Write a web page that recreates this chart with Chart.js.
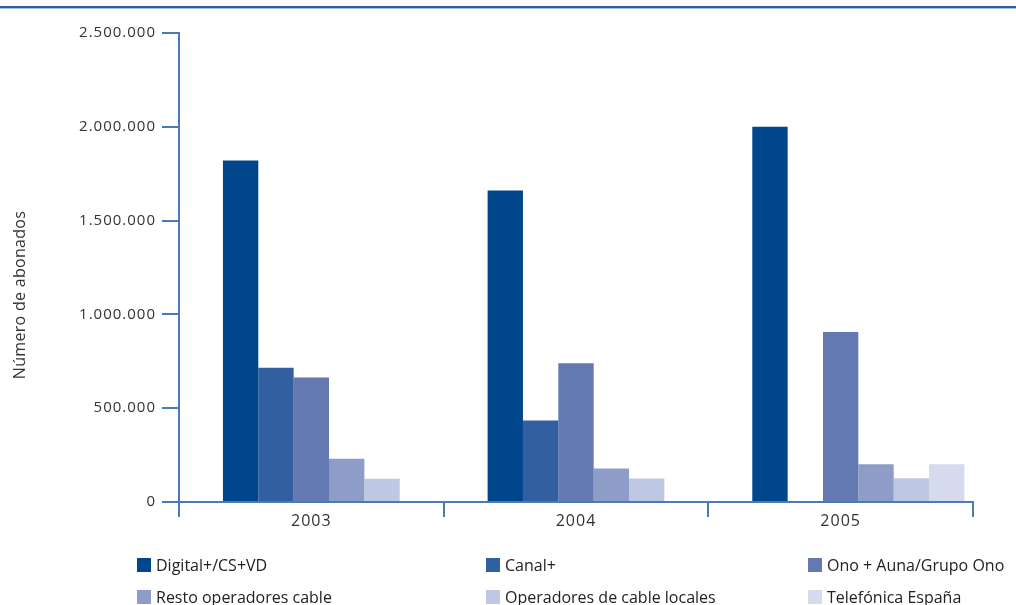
<!DOCTYPE html>
<html lang="es">
<head>
<meta charset="utf-8">
<title>Número de abonados</title>
<script src="https://cdn.jsdelivr.net/npm/chart.js@4"></script>
<style>
    html, body { margin: 0; padding: 0; background: #fff; }
    #wrap { position: relative; width: 1016px; height: 605px; overflow: hidden; }
    #chart { position: absolute; left: 0; top: 0; }
    .legend { position: absolute; left: 0; top: 0; width: 1016px; height: 605px; pointer-events: none;
              font-family: "Open Sans", sans-serif; font-size: 16px; color: #222; }
    .legend-item { position: absolute; display: flex; align-items: center; white-space: nowrap; }
    .legend-item span.box { display: inline-block; width: 14px; height: 14px; margin-right: 5px; }
</style>
</head>
<body>
<div id="wrap">
    <canvas id="chart" width="1016" height="545"></canvas>
    <div class="legend" id="legend"></div>
</div>
<script>
// Datos: abonados por operador
const years = ['2003', '2004', '2005'];
const seriesNames = ['Digital+/CS+VD', 'Canal+', 'Ono + Auna/Grupo Ono',
                     'Resto operadores cable', 'Operadores de cable locales', 'Telefónica España'];
const digitalPlus = [1820000, 1661000, 2000000];
const canalPlus = [716000, 434000, null];
const onoAuna = [663000, 739000, 906000];
const restoCable = [231000, 178000, 201000];
const cableLocales = [124000, 125000, 126000];
const telefonica = [null, null, 201000];
const yTicks = [0, 500000, 1000000, 1500000, 2000000, 2500000];

const colors = ['#00468c', '#325fa0', '#6479b2', '#8e9dc8', '#bfc8e2', '#d5daec'];
const axisColor = '#4a7bb7';

const values = [digitalPlus, canalPlus, onoAuna, restoCable, cableLocales, telefonica];

// Formato español: puntos como separador de miles
function fmt(v) {
    return String(v).replace(/\B(?=(\d{3})+(?!\d))/g, '.');
}

// Línea azul superior y título del eje vertical
const decor = {
    id: 'decor',
    beforeDraw(chart) {
        chart.ctx.letterSpacing = '1px';
    },
    afterDraw(chart) {
        const ctx = chart.ctx;
        ctx.save();
        ctx.fillStyle = '#2e5f9f';
        ctx.fillRect(0, 6, chart.width, 2);
        ctx.fillStyle = '#a9bedc';
        ctx.fillRect(0, 8, chart.width, 1);

        ctx.translate(20, 295);
        ctx.rotate(-Math.PI / 2);
        ctx.letterSpacing = '0.3px';
        ctx.font = '16px "Open Sans"';
        ctx.fillStyle = '#333';
        ctx.textAlign = 'center';
        ctx.textBaseline = 'middle';
        ctx.fillText('Número de abonados', 0, 0);
        ctx.restore();
    }
};

// El primer conjunto vacío deja un hueco a la izquierda de cada grupo
const datasets = [{ label: '', data: years.map(() => null), backgroundColor: 'transparent' }]
    .concat(seriesNames.map((name, i) => ({
        label: name,
        data: values[i],
        backgroundColor: colors[i],
        borderWidth: 0
    })));

new Chart(document.getElementById('chart'), {
    type: 'bar',
    data: {
        labels: years,
        datasets: datasets
    },
    options: {
        responsive: false,
        animation: false,
        datasets: { bar: { categoryPercentage: 0.935, barPercentage: 1.0 } },
        layout: { padding: { top: 33, right: 43, bottom: 5, left: 0 } },
        plugins: {
            legend: { display: false },
            tooltip: { enabled: false }
        },
        scales: {
            x: {
                afterFit(scale) { scale.height = 38; },
                border: { color: axisColor, width: 2 },
                grid: {
                    offset: true,
                    drawOnChartArea: false,
                    color: axisColor,
                    lineWidth: 2,
                    tickLength: 15
                },
                ticks: {
                    padding: -5,
                    color: '#333',
                    font: { family: 'Open Sans', size: 16 }
                }
            },
            y: {
                min: 0,
                max: 2500000,
                afterFit(scale) { scale.width = 179; },
                afterBuildTicks(scale) {
                    scale.ticks = yTicks.map(v => ({ value: v }));
                },
                border: { color: axisColor, width: 2 },
                grid: {
                    drawOnChartArea: false,
                    color: axisColor,
                    lineWidth: 2,
                    tickLength: 17
                },
                ticks: {
                    padding: 6,
                    color: '#333',
                    font: { family: 'Open Sans', size: 15 },
                    callback: v => fmt(v)
                }
            }
        }
    },
    plugins: [decor]
});

// Leyenda en tres columnas y dos filas
const legendEl = document.getElementById('legend');
const colX = [137, 486, 808];
const rowY = [554, 586];
seriesNames.forEach((name, i) => {
    const item = document.createElement('div');
    item.className = 'legend-item';
    item.style.left = colX[i % 3] + 'px';
    item.style.top = rowY[Math.floor(i / 3)] + 'px';
    item.innerHTML = '<span class="box" style="background:' + colors[i] + '"></span>' + name;
    legendEl.appendChild(item);
});
</script>
</body>
</html>
